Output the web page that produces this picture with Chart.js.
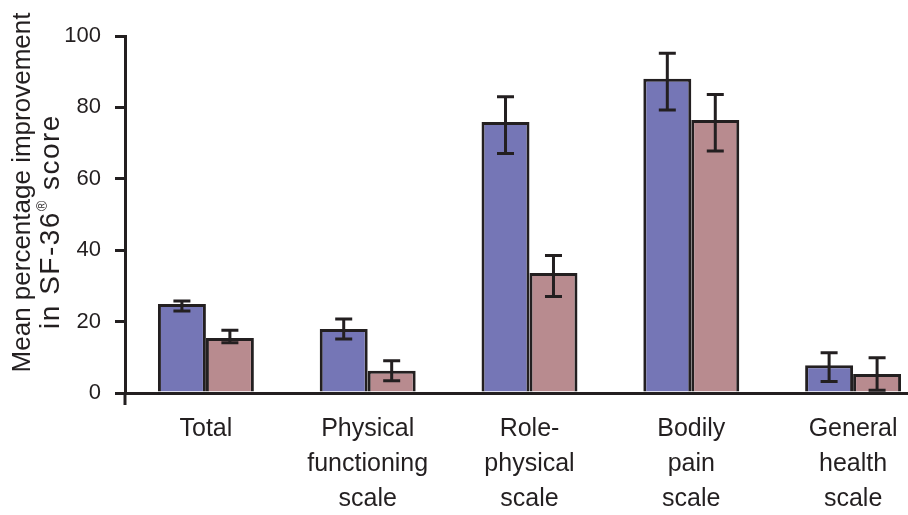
<!DOCTYPE html>
<html>
<head>
<meta charset="utf-8">
<style>
  html, body { margin: 0; padding: 0; background: #ffffff; overflow: hidden; }
  #wrap { width: 940px; height: 515px; position: relative; }
</style>
<script src="https://cdn.jsdelivr.net/npm/chart.js@4/dist/chart.umd.min.js"></script>
</head>
<body>
<div id="wrap"><canvas id="sfChart"></canvas></div>
<script>
const categories = [
  "Total",
  ["Physical", "functioning", "scale"],
  ["Role-", "physical", "scale"],
  ["Bodily", "pain", "scale"],
  ["General", "health", "scale"]
];
const blueValues = [24.9, 17.9, 75.9, 88.0, 7.8];
const blueLow = [23.0, 15.1, 67.1, 79.3, 3.2];
const blueHigh = [25.8, 20.7, 83.0, 95.2, 11.3];
const pinkValues = [15.4, 6.2, 33.6, 76.5, 5.3];
const pinkLow = [14.1, 3.4, 27.0, 67.8, 0.8];
const pinkHigh = [17.6, 9.0, 38.5, 83.6, 9.9];
const yTicks = [0, 20, 40, 60, 80, 100];
const yTitleLine1 = "Mean percentage improvement";
const yTitleLine2 = ["in SF-36", "\u00AE", " score"];

const ink = "#231f20";
const fontFamily = "\"Liberation Sans\", Arial, sans-serif";

const errorBars = {
  id: "errorBars",
  afterDatasetsDraw(chart) {
    const { ctx } = chart;
    const yScale = chart.scales.y;
    ctx.save();
    ctx.strokeStyle = ink;
    ctx.lineWidth = 3;
    chart.data.datasets.forEach((ds, i) => {
      const meta = chart.getDatasetMeta(i);
      meta.data.forEach((bar, j) => {
        const top = yScale.getPixelForValue(ds.errHigh[j]);
        const bottom = yScale.getPixelForValue(ds.errLow[j]);
        ctx.beginPath();
        ctx.moveTo(bar.x, top);
        ctx.lineTo(bar.x, bottom);
        ctx.moveTo(bar.x - 8.5, top);
        ctx.lineTo(bar.x + 8.5, top);
        ctx.moveTo(bar.x - 8.5, bottom);
        ctx.lineTo(bar.x + 8.5, bottom);
        ctx.stroke();
      });
    });
    ctx.restore();
  }
};

// small stub of the y axis below the x axis
const axisStub = {
  id: "axisStub",
  afterDraw(chart) {
    const { ctx, chartArea } = chart;
    ctx.save();
    ctx.strokeStyle = ink;
    ctx.lineWidth = 3;
    ctx.beginPath();
    ctx.moveTo(chartArea.left, chartArea.bottom);
    ctx.lineTo(chartArea.left, chartArea.bottom + 12);
    ctx.stroke();
    ctx.restore();
  }
};

// two-line y title, second line has a superscript (R) mark
const yTitle = {
  id: "yTitle",
  afterDraw(chart) {
    const { ctx, chartArea } = chart;
    const midY = (chartArea.top + chartArea.bottom) / 2;
    ctx.save();
    ctx.fillStyle = ink;
    ctx.textBaseline = "middle";

    ctx.save();
    ctx.translate(chartArea.left - 102, midY - 22);
    ctx.rotate(-Math.PI / 2);
    ctx.font = "26px " + fontFamily;
    ctx.textAlign = "center";
    ctx.fillText(yTitleLine1, 0, 0);
    ctx.restore();

    ctx.save();
    ctx.translate(chartArea.left - 74, midY + 7);
    ctx.rotate(-Math.PI / 2);
    ctx.textAlign = "left";
    ctx.letterSpacing = "1.5px";
    const fonts = ["28px " + fontFamily, "14px " + fontFamily, "28px " + fontFamily];
    const lifts = [0, -8, 0];
    const widths = yTitleLine2.map((part, k) => {
      ctx.font = fonts[k];
      return ctx.measureText(part).width;
    });
    let x = -widths.reduce((a, b) => a + b, 0) / 2;
    yTitleLine2.forEach((part, k) => {
      ctx.font = fonts[k];
      ctx.fillText(part, x, lifts[k]);
      x += widths[k];
    });
    ctx.restore();

    ctx.restore();
  }
};

new Chart(document.getElementById("sfChart"), {
  type: "bar",
  data: {
    labels: categories,
    datasets: [
      {
        data: blueValues,
        errLow: blueLow,
        errHigh: blueHigh,
        backgroundColor: "#7576b6",
        borderColor: ink,
        borderWidth: 3,
        borderSkipped: "bottom"
      },
      {
        data: pinkValues,
        errLow: pinkLow,
        errHigh: pinkHigh,
        backgroundColor: "#b88b8f",
        borderColor: ink,
        borderWidth: 3,
        borderSkipped: "bottom"
      }
    ]
  },
  options: {
    responsive: true,
    maintainAspectRatio: false,
    animation: false,
    categoryPercentage: 0.593,
    barPercentage: 1.0,
    layout: {
      padding: { top: 36, left: 5, right: 6, bottom: 0 }
    },
    plugins: {
      legend: { display: false },
      tooltip: { enabled: false }
    },
    scales: {
      x: {
        offset: true,
        afterFit(scale) { scale.height = 122; },
        grid: { display: false, drawTicks: false },
        border: { display: true, color: ink, width: 3 },
        ticks: {
          color: ink,
          padding: 19,
          maxRotation: 0,
          autoSkip: false,
          font: { family: fontFamily, size: 25, lineHeight: 1.4 }
        }
      },
      y: {
        min: 0,
        max: 100,
        afterFit(scale) { scale.width = 120; },
        afterBuildTicks(scale) {
          scale.ticks = yTicks.map((v) => ({ value: v }));
        },
        grid: {
          drawOnChartArea: false,
          drawTicks: true,
          tickLength: 10,
          color: ink,
          lineWidth: 3
        },
        border: { display: true, color: ink, width: 3 },
        ticks: {
          color: ink,
          padding: 14,
          font: { family: fontFamily, size: 22 }
        },
        title: { display: false }
      }
    }
  },
  plugins: [errorBars, axisStub, yTitle]
});
</script>
</body>
</html>
